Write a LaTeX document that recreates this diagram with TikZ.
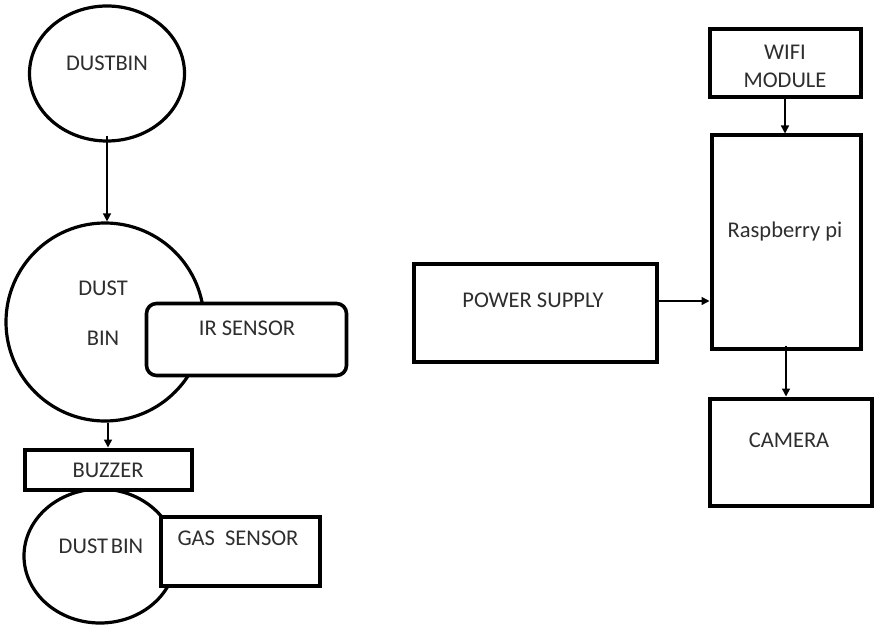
\documentclass[tikz,border=0pt]{standalone}
\usepackage{fontspec}
\setmainfont{Carlito}
\usetikzlibrary{shapes.geometric,arrows.meta}
\definecolor{txt}{HTML}{2E2E2E}
\tikzset{
  box/.style={draw=black,line width=4pt,fill=white,rectangle,inner sep=0pt},
  roundbox/.style={box,line width=3.6pt,rounded corners=10pt},
  bin/.style={draw=black,line width=3.2pt,fill=white,ellipse,inner sep=0pt},
  lbl/.style={text=txt,font=\fontsize{22.5}{25}\selectfont,inner sep=0pt,anchor=center},
  flow/.style={draw=black,line width=1.5pt,-{Triangle[length=8pt,width=8pt]}}
}
\begin{document}
\begin{tikzpicture}[x=1pt,y=-1pt]
\useasboundingbox (0,0) rectangle (874,628);

% left column: dustbins and sensors
\node[bin,minimum width=155pt,minimum height=135pt] (dbtop) at (107,73.5) {};
\node[bin,circle,minimum size=198pt] (dbmid) at (105,322) {};
\node[roundbox,minimum width=200pt,minimum height=72pt] (ir) at (246.5,339.5) {};
\node[bin,minimum width=152pt,minimum height=134pt] (dbbot) at (100,556) {};
\node[box,minimum width=167pt,minimum height=40pt] (buzzer) at (108,469.5) {};
\node[box,minimum width=159pt,minimum height=69pt] (gas) at (240,551) {};

% right column: controller block
\node[box,minimum width=243pt,minimum height=98pt] (power) at (535,312.5) {};
\node[box,minimum width=151pt,minimum height=68pt] (wifi) at (785,63.5) {};
\node[box,minimum width=149pt,minimum height=213pt] (rpi) at (786,242) {};
\node[box,minimum width=162pt,minimum height=107pt] (camera) at (790.5,452) {};

% labels
\node[lbl] (tDustbin) at (107,63) {DUSTBIN};
\node[lbl] (tDust) at (103,288) {DUST};
\node[lbl] (tBin) at (103,338) {BIN};
\node[lbl] (tIr) at (247,328) {IR SENSOR};
\node[lbl] (tBuzzer) at (108,470) {BUZZER};
\node[lbl] (tDustbin2) at (101,546) {DUST\hspace{0.12em}BIN};
\node[lbl] (tGas) at (238,538) {GAS\hspace{0.45em}SENSOR};
\node[lbl] (tPower) at (533,300) {POWER SUPPLY};
\node[lbl] (tWifi) at (785,52) {WIFI};
\node[lbl] (tModule) at (785,80) {MODULE};
\node[lbl] (tRpi) at (785,232) {Raspberry pi};
\node[lbl] (tCamera) at (789,440) {CAMERA};

% connectors
\draw[flow] ([yshift=7pt]dbtop.south) -- (dbtop.south |- dbmid.north);
\draw[flow] (buzzer.north |- dbmid.south) -- (buzzer.north);
\draw[flow] ([yshift=11.5pt]power.east) -- ([yshift=11.5pt]power.east -| rpi.west);
\draw[flow] (wifi.south) -- (wifi.south |- rpi.north);
\draw[flow] ([yshift=5pt]rpi.south) -- (rpi.south |- camera.north);
\end{tikzpicture}
\end{document}
